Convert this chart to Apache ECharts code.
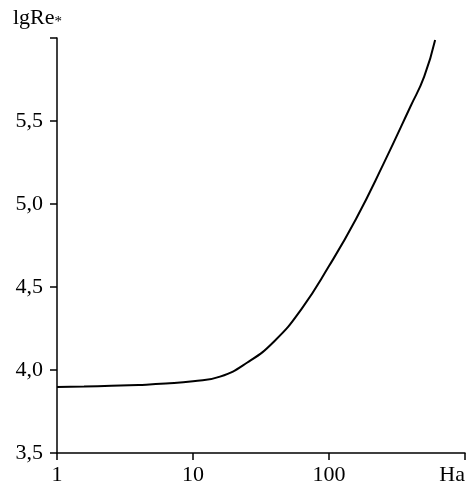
<!DOCTYPE html>
<html>
<head>
<meta charset="utf-8">
<script src="https://cdn.jsdelivr.net/npm/echarts@6/dist/echarts.min.js"></script>
<style>
  html, body { margin: 0; padding: 0; background: #fff; }
  #chart { width: 468px; height: 487px; }
</style>
</head>
<body>
<div id="chart"></div>
<script>
// Ha (log axis) and lgRe*
var haValues   = [1, 1.58, 2.51, 3.98, 6.31, 10, 15.8, 25.1, 39.8, 63.1, 100, 158, 251, 398, 501, 603];
var lgReValues = [3.898, 3.901, 3.905, 3.910, 3.918, 3.932, 3.960, 4.045, 4.175, 4.37, 4.626, 4.91, 5.24, 5.589, 5.767, 5.988];
var yTicks = [3.5, 4.0, 4.5, 5.0, 5.5, 6.0];

var font = 'Liberation Serif';
var myChart = echarts.init(document.getElementById('chart'));

var seriesData = haValues.map(function (h, i) {
  return [h, lgReValues[i]];
});

var option = {
  animation: false,
  backgroundColor: '#fff',
  grid: { left: 57, right: 2, top: 38, bottom: 34 },
  graphic: [{
    type: 'text',
    left: 13,
    top: 7,
    style: {
      text: 'lgRe{s|*}',
      font: '22px "' + font + '"',
      fill: '#000',
      rich: {
        s: { fontFamily: font, fontSize: 15, fill: '#000', padding: [9, 0, 0, 0] }
      }
    }
  }],
  xAxis: {
    type: 'log',
    logBase: 10,
    min: 1,
    max: 1000,
    axisLine: { lineStyle: { color: '#000', width: 1.5 } },
    axisTick: { show: true, length: 7, lineStyle: { color: '#000', width: 1.5 } },
    minorTick: { show: false },
    splitLine: { show: false },
    axisLabel: {
      color: '#000',
      fontFamily: font,
      fontSize: 22,
      margin: 11,
      alignMaxLabel: 'right',
      formatter: function (v) { return v >= 1000 ? 'Ha' : String(v); }
    }
  },
  yAxis: {
    type: 'value',
    min: yTicks[0],
    max: yTicks[yTicks.length - 1],
    interval: 0.5,
    axisLine: { show: true, lineStyle: { color: '#000', width: 1.5 } },
    axisTick: { show: true, length: 7, lineStyle: { color: '#000', width: 1.5 } },
    splitLine: { show: false },
    axisLabel: {
      color: '#000',
      fontFamily: font,
      fontSize: 22,
      margin: 14,
      formatter: function (v) {
        if (v >= 6) return '';
        return v.toFixed(1).replace('.', ',');
      }
    }
  },
  series: [{
    type: 'line',
    data: seriesData,
    smooth: 0.5,
    showSymbol: false,
    lineStyle: { color: '#000', width: 2 }
  }]
};

myChart.setOption(option);
</script>
</body>
</html>
